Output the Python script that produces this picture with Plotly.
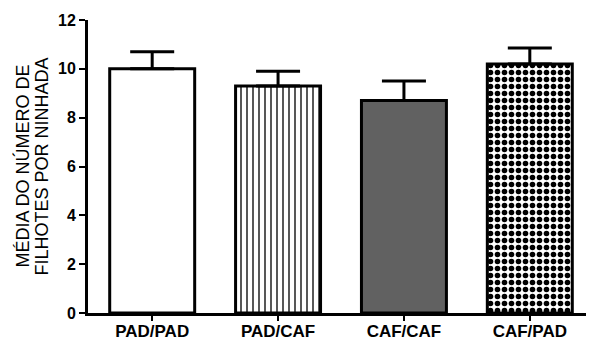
import plotly.graph_objects as go

categories = ["PAD/PAD", "PAD/CAF", "CAF/CAF", "CAF/PAD"]
means = [10.0, 9.3, 8.7, 10.2]
sem = [0.7, 0.6, 0.8, 0.65]
y_ticks = [0, 2, 4, 6, 8, 10, 12]

fill_colors = ["white", "white", "#616161", "white"]
pattern_shapes = ["", "|", "", "."]
pattern_sizes = [6, 6, 6, 7]
pattern_solidity = [0.2, 0.22, 0.2, 0.5]

FONT = "Liberation Sans, Arial, sans-serif"

# page body has an 8px default margin, so the figure is 8px smaller
W, H = 586, 330
ML, MR, MT, MB = 80, 0, 12, 25

fig = go.Figure()
for i, cat in enumerate(categories):
    marker = dict(color=fill_colors[i], line=dict(color="black", width=3))
    if pattern_shapes[i]:
        marker["pattern"] = dict(
            shape=pattern_shapes[i],
            size=pattern_sizes[i],
            solidity=pattern_solidity[i],
            fgcolor="black",
            bgcolor=fill_colors[i],
            fillmode="replace",
        )
    fig.add_trace(go.Bar(
        x=[cat],
        y=[means[i]],
        width=0.675,
        marker=marker,
        error_y=dict(
            type="data",
            symmetric=False,
            array=[sem[i]],
            arrayminus=[0],
            color="black",
            thickness=3,
            width=22,
        ),
        showlegend=False,
    ))

fig.update_layout(
    width=W,
    height=H,
    margin=dict(l=ML, r=MR, t=MT, b=MB),
    paper_bgcolor="white",
    plot_bgcolor="white",
    font=dict(family=FONT, color="black"),
    barmode="overlay",
)

fig.update_xaxes(
    range=[-0.51, 3.51],
    tickvals=categories,
    ticktext=["<b>" + c + "</b>" for c in categories],
    showline=True,
    linecolor="black",
    linewidth=3,
    ticks="outside",
    ticklen=5,
    tickwidth=2,
    tickcolor="black",
    ticklabelstandoff=-4,
    tickfont=dict(size=17, family=FONT, color="black"),
    showgrid=False,
    zeroline=False,
    automargin=False,
)

fig.update_yaxes(
    range=[0, 12],
    tickvals=y_ticks,
    ticktext=["<b>" + str(v) + "</b>" for v in y_ticks],
    showline=True,
    linecolor="black",
    linewidth=3,
    ticks="outside",
    ticklen=6,
    tickwidth=2,
    tickcolor="black",
    tickfont=dict(size=16, family=FONT, color="black"),
    showgrid=False,
    zeroline=False,
    automargin=False,
)

title_lines = ["MÉDIA DO NÚMERO DE", "FILHOTES POR NINHADA"]
title_x = [14, 33]
for line, xpx in zip(title_lines, title_x):
    fig.add_annotation(
        text=line,
        textangle=-90,
        xref="paper", yref="paper",
        x=(xpx - ML) / (W - ML - MR), y=0.5,
        xanchor="center", yanchor="middle",
        showarrow=False,
        font=dict(size=18, family=FONT, color="black"),
    )

fig.write_html("out.html")
